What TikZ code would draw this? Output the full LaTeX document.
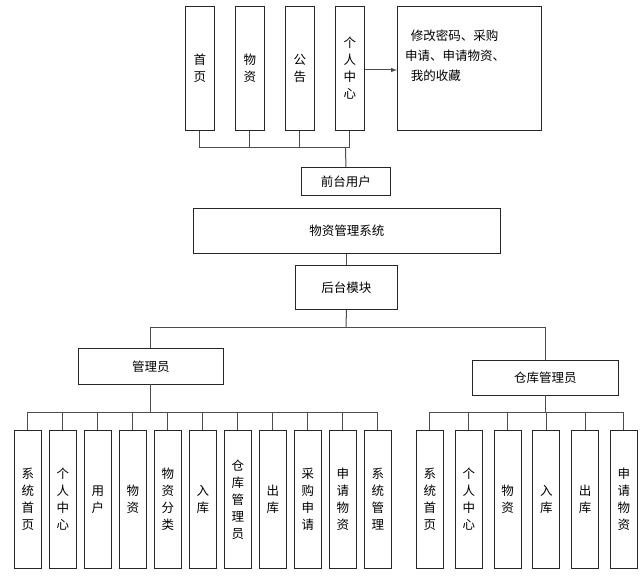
\documentclass[tikz,border=0pt]{standalone}
\usepackage{fontspec}
\setmainfont{Noto Sans CJK SC}
\begin{document}
\begin{tikzpicture}[x=1pt,y=-1pt,
  bx/.style={draw=black!85,line width=0.9pt,fill=white,inner sep=0pt,font=\fontsize{12.5}{17}\selectfont,align=center},
  ln/.style={draw=black!70,line width=1pt},
  vt/.style={bx,minimum width=27pt,minimum height=138pt,anchor=north west}]
\useasboundingbox (0,0) rectangle (644,577);
% top
\node[bx,minimum width=29pt,minimum height=124pt,anchor=north west] (t1) at (185,6) {首\\页};
\node[bx,minimum width=29pt,minimum height=124pt,anchor=north west] (t2) at (235,6) {物\\资};
\node[bx,minimum width=29pt,minimum height=124pt,anchor=north west] (t3) at (285,6) {公\\告};
\node[bx,minimum width=29pt,minimum height=124pt,anchor=north west] (t4) at (335,6) {个\\人\\中\\心};
\node[bx,minimum width=144pt,minimum height=124pt,anchor=north west] (t5) at (397,6) {};
\node[font=\fontsize{12.5}{20}\selectfont,align=left,anchor=north west,inner sep=0pt] (t5txt) at (405,30) {\ \ 修改密码、采购\\申请、申请物资、\\\ \ 我的收藏};
\draw[ln,-latex] (t4.east |- 0,70) -- (t5.west |- 0,70);
\node[bx,minimum width=89pt,minimum height=28pt,anchor=north west] (fu) at (301,167) {前台用户};
\node[bx,minimum width=307pt,minimum height=45pt,anchor=north west] (sys) at (193,208) {物资管理系统};
\node[bx,minimum width=102pt,minimum height=44pt,anchor=north west] (hm) at (295,265) {后台模块};
\node[bx,minimum width=145pt,minimum height=36pt,anchor=north west] (adm) at (78,348) {管理员};
\node[bx,minimum width=146pt,minimum height=35pt,anchor=north west] (wh) at (472,360) {仓库管理员};
\coordinate (b1) at (345.5,148);
\foreach \n in {t1,t2,t3,t4} \draw[ln] (\n.south) -- (\n.south |- b1);
\draw[ln] (t1.south |- b1) -- (t4.south |- b1);
\draw[ln] (b1) -- (fu.north);
\draw[ln] (hm.north) -- (hm.north |- sys.south);
\coordinate (b2) at (346,327);
\draw[ln] (hm.south) -- (b2);
\draw[ln] (150,327) -- (545,327);
\draw[ln] (150,327) -- (150,348);
\draw[ln] (545,327) -- (545,360);
% left leaves
\foreach \t [count=\i from 0] in {系\\统\\首\\页,个\\人\\中\\心,用\\户,物\\资,物\\资\\分\\类,入\\库,仓\\库\\管\\理\\员,出\\库,采\\购\\申\\请,申\\请\\物\\资,系\\统\\管\\理}{
  \node[vt] (l\i) at (14+35*\i,430) {\t};
  \draw[ln] (l\i.north) -- ++(0,-18);
}
\draw[ln] (l0.north |- 0,412) -- (l10.north |- 0,412);
\draw[ln] (150,384) -- (150,412);
% right leaves
\foreach \t [count=\i from 0] in {系\\统\\首\\页,个\\人\\中\\心,物\\资,入\\库,出\\库,申\\请\\物\\资}{
  \node[vt] (r\i) at (416+38.8*\i,430) {\t};
  \draw[ln] (r\i.north) -- ++(0,-18);
}
\draw[ln] (r0.north |- 0,412) -- (r5.north |- 0,412);
\draw[ln] (545,395) -- (545,412);
\end{tikzpicture}
\end{document}
